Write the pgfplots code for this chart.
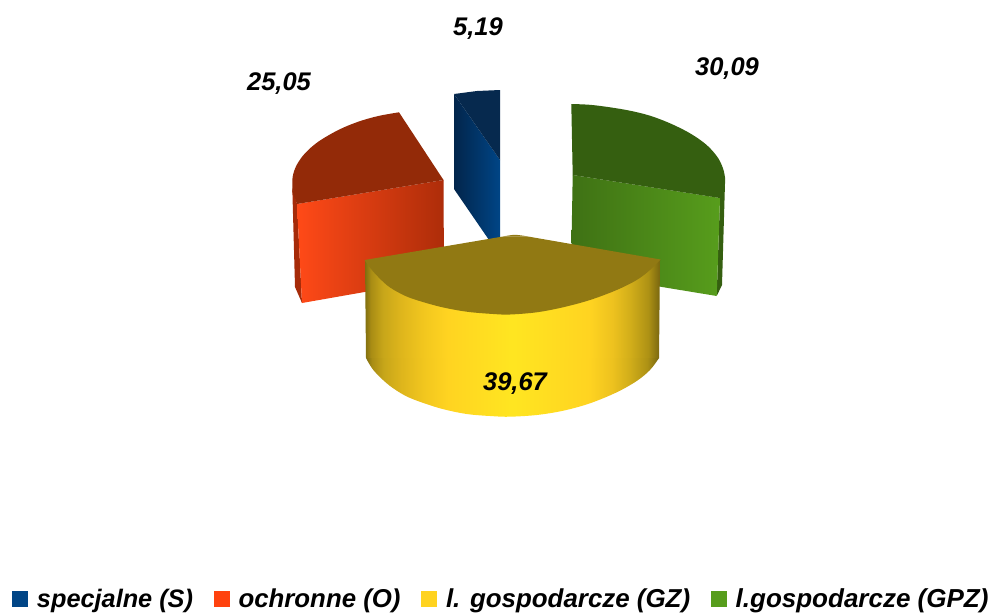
\documentclass[border=0pt]{standalone}
\usepackage{fontspec}
\setmainfont{Liberation Sans}
\usepackage{pgfplots}
\pgfplotsset{compat=1.18}
\usetikzlibrary{shadings}

\definecolor{sBlue}{HTML}{004586}
\definecolor{sBlueDark}{HTML}{02254B}
\definecolor{sRed}{HTML}{FF420E}
\definecolor{sYellow}{HTML}{FFD320}
\definecolor{sGreen}{HTML}{579D1C}
\definecolor{topBlue}{HTML}{06294E}
\definecolor{topRed}{HTML}{932A08}
\definecolor{topYellow}{HTML}{917913}
\definecolor{topGreen}{HTML}{355F10}

% bbox of the path maps to 25bp..75bp
\pgfdeclarehorizontalshading{yellowside}{100bp}{
  rgb(0bp)=(0.50,0.43,0.06);
  rgb(25bp)=(0.50,0.43,0.06);
  rgb(26bp)=(0.66,0.55,0.08);
  rgb(28bp)=(0.78,0.65,0.10);
  rgb(31bp)=(0.87,0.71,0.11);
  rgb(35bp)=(0.95,0.78,0.12);
  rgb(39bp)=(1.00,0.83,0.13);
  rgb(50bp)=(1.00,0.90,0.13);
  rgb(63bp)=(1.00,0.83,0.13);
  rgb(67bp)=(0.93,0.76,0.12);
  rgb(70bp)=(0.82,0.68,0.10);
  rgb(73bp)=(0.68,0.57,0.08);
  rgb(75bp)=(0.47,0.40,0.06);
  rgb(100bp)=(0.47,0.40,0.06)}

\newcommand{\lab}[1]{\fontsize{25.5}{26}\selectfont\bfseries\itshape #1}
\newcommand{\leg}[2]{\fontsize{#1}{26}\selectfont\hspace{9pt}#2}

\begin{document}
\begin{tikzpicture}
\useasboundingbox (0,0) rectangle (988pt,614pt);
\begin{axis}[
    scale only axis,
    width=988pt, height=614pt,
    xmin=0, xmax=988, ymin=0, ymax=614,
    y dir=reverse,
    axis lines=none,
    clip=false,
    legend columns=4,
    legend style={
        at={(axis cs:12,599)}, anchor=west,
        draw=none, fill=none, inner sep=0pt, outer sep=0pt,
        font=\fontsize{25.3}{26}\selectfont\bfseries\itshape,
        /tikz/every even column/.style={column sep=20.5pt},
        nodes={inner sep=0pt},
    },
    legend image code/.code={
        \fill[#1, draw=none] (0pt,-8pt) rectangle (16pt,8pt);
    },
]
% specjalne
\addplot[forget plot, shade, left color=sBlueDark, right color=sBlue, draw=none]
  coordinates {(454,94) (500,160) (500,256) (454,189)} --cycle;
\addplot[forget plot, fill=topBlue, draw=none]
  coordinates {(454,94) (477,91) (500,90) (500,160)} --cycle;

% ochronne
\addplot[forget plot, fill=sRed!65!black, draw=none]
  coordinates {(292.3,188) (297,204) (302,303) (295,287)} --cycle;
\addplot[forget plot, shade, shading angle=80, left color=sRed!96!white, right color=sRed!68!black, draw=none]
  coordinates {(297,204) (443.5,180) (444,278) (302,303)} --cycle;
\addplot[forget plot, fill=topRed, draw=none]
  coordinates {(399,112.3) (443.5,180) (297,204) (292.3,191.7) (335,145)} --cycle;
\addplot[forget plot, smooth, tension=0.55, fill=topRed, draw=none]
  coordinates {
    (292.3,191.7) (292.7,176.7) (296.7,165) (305,153.3) (318.3,141.7)
    (338.3,130) (358.3,121.7) (378.3,116) (399,112.3)
  } --cycle;

% l. gospodarcze (GPZ)
\addplot[forget plot, fill=topGreen, draw=none]
  coordinates {(725,183) (722,285) (716.7,296) (720,198)} --cycle;
\addplot[forget plot, shade, shading angle=75, left color=sGreen!72!black, right color=sGreen, draw=none]
  coordinates {(572.7,175) (720,198) (716.7,296) (571,272)} --cycle;
\addplot[forget plot, fill=topGreen, draw=none]
  coordinates {(571.3,104) (660,135) (721.7,198.3) (572.7,175)} --cycle;
\addplot[forget plot, smooth, tension=0.55, fill=topGreen, draw=none]
  coordinates {
    (571.3,104) (590,104.8) (610,107.3) (630,110.7) (650,115.7) (670,123.3)
    (690,133.3) (706.7,145) (718.3,158.3) (724,171.7) (725,183.3) (721.7,198.3)
  } --cycle;

% l. gospodarcze (GZ)
\addplot[forget plot, shade, shading=yellowside, draw=none]
  coordinates {(365,260) (660,260) (659,358) (512,372) (366,358)} --cycle;
\addplot[forget plot, smooth, tension=0.55, shade, shading=yellowside, draw=none]
  coordinates {
    (659,358) (650,370) (636.7,381) (616.7,392.3) (590,403.3) (563.3,410.7)
    (536.7,415) (510,416.7) (493.3,416.2) (466.7,414) (440,408.3) (413.3,399.3)
    (400,392.7) (386.7,383.3) (373.3,370) (366,358)
  } --cycle;
\addplot[forget plot, fill=topYellow, draw=none]
  coordinates {(364.5,260) (503,236.5) (528,236.5) (660.5,259.5) (512,300)} --cycle;
\addplot[forget plot, smooth, tension=0.55, fill=topYellow, draw=none]
  coordinates {(503,236.5) (515,234.8) (528,236.5)} --cycle;
\addplot[forget plot, smooth, tension=0.55, fill=topYellow, draw=none]
  coordinates {
    (660.5,259.5) (650,270) (636.7,280) (616.7,290) (590,300) (563,307.3)
    (536.7,312.3) (510,314.5) (493.3,314) (466.7,311.7) (440,306.7) (413.3,299)
    (400,293.3) (386.7,285) (373.3,271.7) (364.5,260)
  } --cycle;

\node at (axis cs:478,29) {\lab{5,19}};
\node at (axis cs:279,84) {\lab{25,05}};
\node at (axis cs:727,69) {\lab{30,09}};
\node at (axis cs:515,384) {\lab{39,67}};

\addlegendimage{fill=sBlue}
\addlegendimage{fill=sRed}
\addlegendimage{fill=sYellow}
\addlegendimage{fill=sGreen}
\legend{{\leg{25.3}{specjalne (S)}},{\leg{25.8}{ochronne (O)}},{\leg{25.9}{l. gospodarcze (GZ)}},{\leg{26}{l.gospodarcze (GPZ)}}}
\end{axis}
\end{tikzpicture}
\end{document}
